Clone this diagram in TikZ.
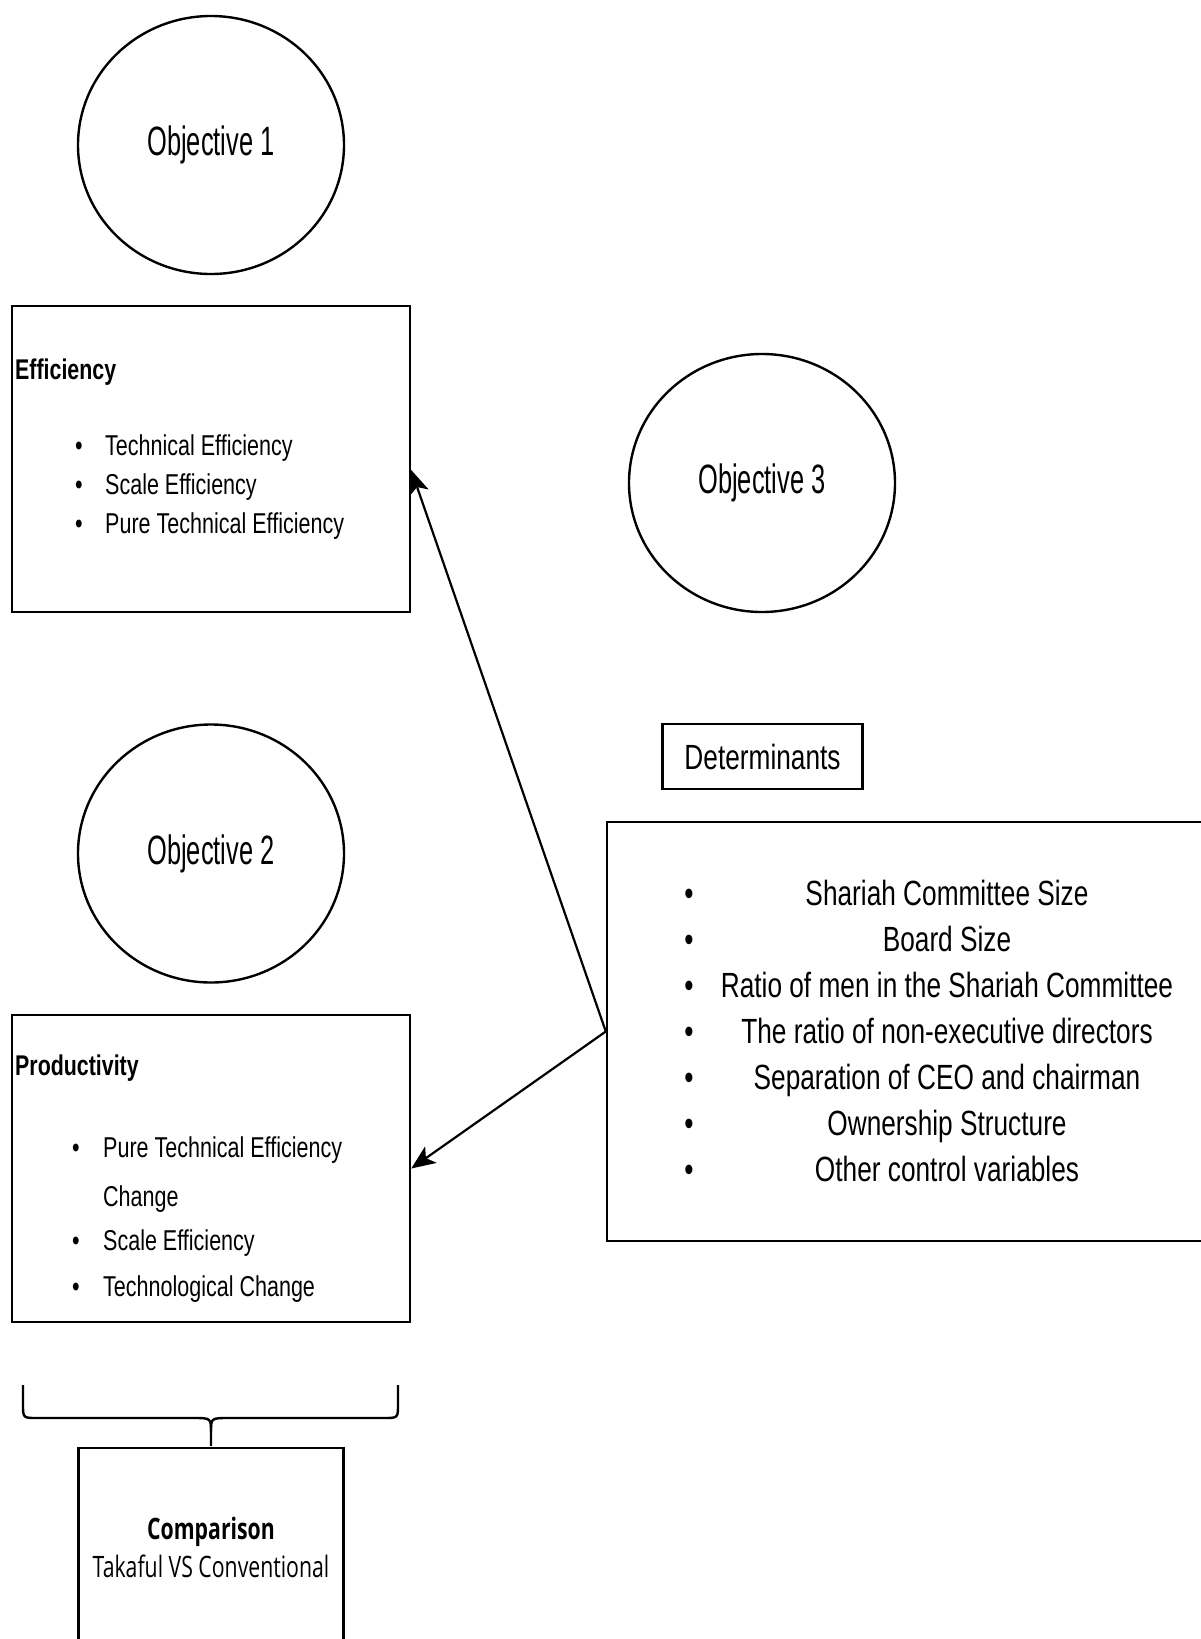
\documentclass[tikz,border=0pt]{standalone}
\usepackage{fontspec}
\setmainfont{Liberation Sans}
\newfontfamily\narrowsf[FakeStretch=0.75]{Liberation Sans}
\newfontfamily\objsf[FakeStretch=0.62]{Liberation Sans}
\newfontfamily\cmpsf[FakeStretch=0.72]{Open Sans}
\usepackage{tikz}
\usetikzlibrary{shapes.geometric}
\usetikzlibrary{arrows.meta}

\begin{document}
\begin{tikzpicture}[x=1pt,y=-1pt,
        objective/.style={draw,line width=2.4pt,ellipse,minimum width=266pt,minimum height=258pt,inner sep=0pt,font=\objsf\fontsize{41}{49}\selectfont},
        panel/.style={draw,line width=2.4pt,rectangle,inner sep=0pt},
        head/.style={anchor=base west,inner sep=0pt,font=\narrowsf\bfseries\fontsize{28.5}{34}\selectfont},
        item/.style={anchor=base west,inner sep=0pt,font=\narrowsf\fontsize{28.7}{34}\selectfont},
        itemdot/.style={anchor=base,inner sep=0pt,font=\narrowsf\fontsize{28.7}{34}\selectfont},
        det/.style={anchor=base,inner sep=0pt,font=\narrowsf\fontsize{35}{42}\selectfont},
        link/.style={line width=2.2pt,-{Stealth[length=24pt,width=20pt,inset=6pt]}}]
        \useasboundingbox (0,0) rectangle (1200,1639);
        \node[objective] (obj1) at (211,145) {Objective 1};
        \node[objective] (obj2) at (211,853.5) {Objective 2};
        \node[objective] (obj3) at (762,483) {Objective 3};
        \node[panel,minimum width=398pt,minimum height=306pt] (eff) at (211,459) {};
        \node[head] (effhead) at (15,379) {Efficiency};
        \foreach \txt [count=\i] in {Technical Efficiency,Scale Efficiency,Pure Technical Efficiency} {
            \node[itemdot] (effdot\i) at (79,{455+39*(\i-1)}) {•};
            \node[item] (effitem\i) at (105,{455+39*(\i-1)}) {\txt};
        }
        \node[panel,minimum width=398pt,minimum height=307pt] (prod) at (211,1168.5) {};
        \node[head] (prodhead) at (15,1075) {Productivity};
        \node[itemdot] (proddot1) at (76,1157) {•};
        \node[item] (proditem1) at (103,1157) {Pure Technical Efficiency};
        \node[item] (proditem1b) at (103,1206.5) {Change};
        \node[itemdot] (proddot2) at (76,1250) {•};
        \node[item] (proditem2) at (103,1250) {Scale Efficiency};
        \node[itemdot] (proddot3) at (76,1296.5) {•};
        \node[item] (proditem3) at (103,1296.5) {Technological Change};
        \node[panel,minimum width=200pt,minimum height=65pt,font=\narrowsf\fontsize{35}{42}\selectfont] (dethead) at (762.5,756.5) {Determinants};
        \node[panel,minimum width=684pt,minimum height=419pt] (detbox) at (949,1031.5) {};
        \foreach \txt [count=\i] in {Shariah Committee Size,Board Size,Ratio of men in the Shariah Committee,The ratio of non-executive directors,Separation of CEO and chairman,Ownership Structure,Other control variables} {
            \node[det] (detdot\i) at (689,{905+46*(\i-1)}) {•};
            \node[det] (detitem\i) at (947,{905+46*(\i-1)}) {\txt};
        }
        \coordinate (effin) at ([yshift=-11pt]eff.east);
        \draw[link] (detbox.west)--(effin);
        \draw[link] (detbox.west)--(prod.east);
        \draw[line width=2.4pt] (23,1385)--(23,1404) .. controls (23,1418) .. (37,1418)--(193,1418) .. controls (211,1418) .. (211,1432)--(211,1446);
        \draw[line width=2.4pt] (398,1385)--(398,1404) .. controls (398,1418) .. (384,1418)--(229,1418) .. controls (211,1418) .. (211,1432);
        \node[panel,minimum width=265pt,minimum height=198pt,align=center,font=\cmpsf\fontsize{29.5}{38}\selectfont] (cmp) at (211,1547) {{\bfseries Comparison}\\Takaful VS Conventional};
    \end{tikzpicture}
\end{document}
